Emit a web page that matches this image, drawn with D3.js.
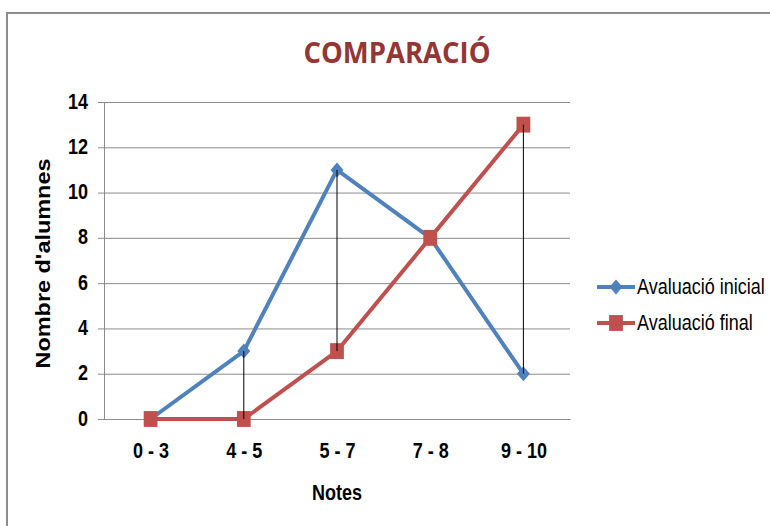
<!DOCTYPE html>
<html>
<head>
<meta charset="utf-8">
<script src="https://cdn.jsdelivr.net/npm/d3@7"></script>
<style>
  body { margin: 0; background: #fff; }
  svg { display: block; font-family: Arial, "Liberation Sans", sans-serif; }
</style>
</head>
<body>
<div id="chart"></div>
<script>
// Comparació: student counts per grade band, initial vs final assessment

const categories = ["0 - 3", "4 - 5", "5 - 7", "7 - 8", "9 - 10"];
const inicial = [0, 3, 11, 8, 2];
const final = [0, 0, 3, 8, 13];
const yTicks = [0, 2, 4, 6, 8, 10, 12, 14];

const width = 770;
const height = 526;
const plot = { left: 104, right: 570, top: 102, bottom: 419 };
const stretch = 1.18; // the original is a bit taller than wide

const svg = d3.select("#chart")
  .append("svg")
  .attr("width", width)
  .attr("height", height);

// outer frame
svg.append("rect")
  .attr("x", 7).attr("y", 13)
  .attr("width", 800).attr("height", 600)
  .attr("fill", "#fff")
  .attr("stroke", "#8c8c8c")
  .attr("stroke-width", 2);

const x = d3.scalePoint()
  .domain(categories)
  .range([plot.left, plot.right])
  .padding(0.5);

const y = d3.scaleLinear()
  .domain([0, 14])
  .range([plot.bottom, plot.top]);

// --- GRIDLINES + Y AXIS ---
const yAxis = svg.append("g")
  .attr("transform", `translate(${plot.left},0)`)
  .call(d3.axisLeft(y).tickValues(yTicks).tickSize(6));

yAxis.select(".domain").attr("stroke", "#8c8c8c");
yAxis.selectAll(".tick line").attr("stroke", "#8c8c8c");
yAxis.selectAll(".tick text")
  .attr("x", null)
  .attr("dy", null)
  .attr("transform", `translate(-16,6) scale(1,${stretch})`)
  .attr("fill", "#000")
  .style("font-size", "18px")
  .style("font-weight", "bold");

yAxis.selectAll(".tick")
  .append("line")
  .attr("x1", 0)
  .attr("x2", plot.right - plot.left)
  .attr("stroke", "#8c8c8c")
  .attr("stroke-width", 1);

// --- X AXIS ---
const xAxis = svg.append("g")
  .attr("transform", `translate(0,${plot.bottom})`)
  .call(d3.axisBottom(x).tickSize(0));

xAxis.select(".domain").attr("stroke", "#8c8c8c");
xAxis.selectAll(".tick text")
  .attr("y", null)
  .attr("dy", null)
  .attr("transform", `translate(0,39) scale(1,${stretch})`)
  .attr("fill", "#000")
  .style("font-size", "18px")
  .style("font-weight", "bold");

// --- SERIES ---
const series = [
  { name: "Avaluació inicial", values: inicial, color: "#4F81BD", size: 84, rotate: 45 },
  { name: "Avaluació final", values: final, color: "#C0504D", size: 190, rotate: 0 }
];

const line = d3.line()
  .x((d, i) => x(categories[i]))
  .y(d => y(d));

const marker = s => d3.symbol().type(d3.symbolSquare).size(s.size)();

series.forEach(s => {
  svg.append("path")
    .datum(s.values)
    .attr("d", line)
    .attr("fill", "none")
    .attr("stroke", s.color)
    .attr("stroke-width", 4)
    .attr("stroke-linejoin", "round");

  svg.append("g")
    .selectAll("path")
    .data(s.values)
    .join("path")
    .attr("transform", (d, i) => `translate(${x(categories[i])},${y(d)}) scale(1,1.15) rotate(${s.rotate})`)
    .attr("d", marker(s))
    .attr("fill", s.color);
});

// --- HIGH-LOW LINES (drawn over the markers) ---
svg.append("g")
  .selectAll("line")
  .data(categories)
  .join("line")
  .attr("x1", d => x(d))
  .attr("x2", d => x(d))
  .attr("y1", (d, i) => y(Math.max(inicial[i], final[i])))
  .attr("y2", (d, i) => y(Math.min(inicial[i], final[i])))
  .attr("stroke", "#000")
  .attr("stroke-width", 1);

// --- TITLES ---
svg.append("text")
  .attr("x", 397)
  .attr("y", 63)
  .attr("text-anchor", "middle")
  .attr("textLength", 187)
  .attr("lengthAdjust", "spacingAndGlyphs")
  .style("font-family", "'Open Sans', sans-serif")
  .style("font-size", "28px")
  .style("font-weight", "bold")
  .attr("fill", "#943634")
  .text("COMPARACIÓ");

svg.append("text")
  .attr("transform", `translate(50,${(plot.top + plot.bottom) / 2 + 3}) rotate(-90)`)
  .attr("text-anchor", "middle")
  .attr("textLength", 210)
  .attr("lengthAdjust", "spacingAndGlyphs")
  .style("font-size", "20px")
  .style("font-weight", "bold")
  .text("Nombre d'alumnes");

svg.append("text")
  .attr("transform", `translate(${(plot.left + plot.right) / 2},500) scale(1,${stretch})`)
  .attr("text-anchor", "middle")
  .style("font-size", "18px")
  .style("font-weight", "bold")
  .text("Notes");

// --- LEGEND ---
const legend = svg.append("g")
  .selectAll("g")
  .data(series)
  .join("g")
  .attr("transform", (d, i) => `translate(597,${287 + i * 36})`);

legend.append("line")
  .attr("x1", 0).attr("x2", 38)
  .attr("stroke", d => d.color)
  .attr("stroke-width", 4);

legend.append("path")
  .attr("transform", d => `translate(19,0) scale(1,1.15) rotate(${d.rotate})`)
  .attr("d", d => marker(d))
  .attr("fill", d => d.color);

legend.append("text")
  .attr("transform", `translate(40,7) scale(1,${stretch})`)
  .style("font-size", "18px")
  .text(d => d.name);
</script>
</body>
</html>
